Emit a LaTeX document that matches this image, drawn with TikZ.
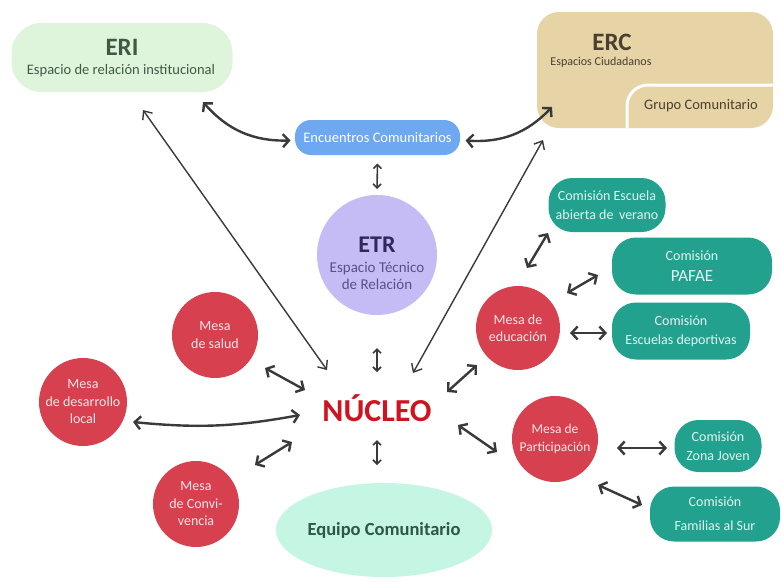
\documentclass[tikz,border=0pt]{standalone}
\usepackage{fontspec}
\setmainfont{Carlito}
\usetikzlibrary{arrows.meta,shapes.geometric}
\definecolor{erigreen}{HTML}{DFF5DB}
\definecolor{eritext}{HTML}{3E5A45}
\definecolor{erctan}{HTML}{E6D3A6}
\definecolor{erctext}{HTML}{4A4030}
\definecolor{encblue}{HTML}{6EA8F0}
\definecolor{etrpurple}{HTML}{C6BCF5}
\definecolor{etrtext}{HTML}{2F2A5A}
\definecolor{etrsub}{HTML}{5A4F8C}
\definecolor{nucred}{HTML}{D1121F}
\definecolor{mesared}{HTML}{D6404F}
\definecolor{mesatext}{HTML}{F8E6E8}
\definecolor{teal}{HTML}{22A18F}
\definecolor{tealtext}{HTML}{E2F4EF}
\definecolor{equaqua}{HTML}{C5F5E3}
\definecolor{equtext}{HTML}{2E5546}
\definecolor{arrowc}{HTML}{3A3A3A}
\tikzset{
  mesa/.style={circle, fill=mesared, text=mesatext, minimum size=86pt, inner sep=0pt, align=center, font=\fontsize{14}{17.5}\selectfont},
  comision/.style={rectangle, rounded corners=24pt, fill=teal, text=tealtext, inner sep=0pt, align=center, font=\fontsize{14}{19}\selectfont},
  arr/.style={draw=arrowc, line width=2.4pt, {Straight Barb[length=6pt,width=13pt]}-{Straight Barb[length=6pt,width=13pt]}},
  thinarr/.style={draw=arrowc, line width=1.4pt, {Straight Barb[length=7pt,width=12pt]}-{Straight Barb[length=7pt,width=12pt]}},
  smallarr/.style={draw=arrowc, line width=1.6pt, {Straight Barb[length=4pt,width=8pt]}-{Straight Barb[length=4pt,width=8pt]}},
  lbl/.style={inner sep=0pt}
}
\begin{document}
\begin{tikzpicture}[x=1pt,y=-1pt]
\useasboundingbox (0,0) rectangle (781,581);
\fill[white] (0,0) rectangle (781,581);

% ERI
\node[rectangle, rounded corners=30pt, fill=erigreen, minimum width=221pt, minimum height=69pt] (eri) at (122,57.5) {};
\node[lbl, text=eritext, font=\fontsize{25}{28}\selectfont\bfseries] (eriT) at (122,47) {ERI};
\node[lbl, text=eritext, font=\fontsize{14.5}{16}\selectfont] (eriS) at (121,71) {Espacio de relación institucional};

% ERC
\node[rectangle, rounded corners=22pt, fill=erctan, minimum width=236pt, minimum height=116pt] (erc) at (655,70) {};
\draw[white, line width=3pt] (627,128) -- (627,106) arc[start angle=180, end angle=90, radius=21pt] -- (773,85);
\node[lbl, text=erctext, font=\fontsize{25}{28}\selectfont\bfseries] (ercT) at (612,42) {ERC};
\node[lbl, text=erctext, font=\fontsize{12}{13}\selectfont] (ercS) at (601,62) {Espacios Ciudadanos};
\node[lbl, text=erctext, font=\fontsize{14.5}{16}\selectfont] (grupo) at (701,106) {Grupo Comunitario};

% Encuentros
\node[rectangle, rounded corners=16pt, fill=encblue, text=white, minimum width=165pt, minimum height=35pt, inner sep=0pt, font=\fontsize{14.5}{16}\selectfont] (enc) at (377.5,137.5) {Encuentros Comunitarios};

% ETR
\node[circle, fill=etrpurple, minimum size=120pt, inner sep=0pt] (etr) at (377,255) {};
\node[lbl, text=etrtext, font=\fontsize{24}{26}\selectfont\bfseries] (etrT) at (377,245) {ETR};
\node[lbl, text=etrsub, align=center, font=\fontsize{15}{17}\selectfont] (etrS) at (377,276) {Espacio Técnico\\de Relación};

% NUCLEO
\node[lbl, text=nucred, font=\fontsize{32}{36}\selectfont\bfseries] (nuc) at (377,408) {NÚCLEO};

% Equipo
\node[ellipse, fill=equaqua, minimum width=202pt, minimum height=94pt, inner sep=0pt, text=equtext, font=\fontsize{18.5}{20}\selectfont\bfseries] (equ) at (384,530) {Equipo Comunitario};

% Mesas
\node[mesa] (salud) at (215,335) {Mesa\\de salud};
\node[mesa, minimum size=88pt] (desa) at (83,402) {Mesa\\de desarrollo\\local};
\node[mesa] (conv) at (196,504) {Mesa\\de Convi-\\vencia};
\node[mesa, minimum size=84pt] (edu) at (518,328) {Mesa de\\educación};
\node[mesa, font=\fontsize{13.5}{17.5}\selectfont] (part) at (555,439) {Mesa de\\Participación};

% Comisiones
\node[comision, minimum width=117pt, minimum height=54pt] (esc) at (607,205) {Comisión Escuela\\abierta de\, verano};
\node[comision, minimum width=160pt, minimum height=57pt, font=\fontsize{14}{21}\selectfont] (paf) at (692,266) {Comisión\\{\fontsize{17}{19}\selectfont PAFAE}};
\node[comision, minimum width=138pt, minimum height=57pt] (dep) at (681,331) {Comisión\\Escuelas deportivas};
\node[comision, minimum width=87pt, minimum height=52pt] (zj) at (718,446) {Comisión\\Zona Joven};
\node[comision, minimum width=130pt, minimum height=55pt, font=\fontsize{14}{24}\selectfont] (fam) at (715,514) {Comisión\\Familias al Sur};

% Arrows
\draw[arr] ([shift={(81,44.5)}]eri.center) to[bend right=25] ([shift={(-87,3)}]enc.center);
\draw[arr] ([shift={(88,3)}]enc.center) to[bend right=25] ([shift={(-103,37)}]erc.center);
\draw[smallarr] ([shift={(0,26)}]enc.center) -- ([shift={(0,-66)}]etr.center);
\draw[thinarr] ([shift={(21,52.5)}]eri.center) -- ([shift={(-50,-38)}]nuc.center);
\draw[thinarr] ([shift={(-112,70)}]erc.center) -- ([shift={(36,-35)}]nuc.center);
\draw[smallarr] ([shift={(0,93)}]etr.center) -- ([shift={(0,-36)}]nuc.center);
\draw[smallarr] ([shift={(0,32)}]nuc.center) -- ([shift={(-7,-65)}]equ.center);
\draw[arr] ([shift={(50,33)}]salud.center) -- ([shift={(-72,-18)}]nuc.center);
\draw[arr] ([shift={(50,20)}]desa.center) to[bend right=8] ([shift={(-77,7)}]nuc.center);
\draw[arr] ([shift={(59,-39)}]conv.center) -- ([shift={(-85,34)}]nuc.center);
\draw[arr] ([shift={(70,-16)}]nuc.center) -- ([shift={(-41,37)}]edu.center);
\draw[arr] ([shift={(81,17)}]nuc.center) -- ([shift={(-58,13)}]part.center);
\draw[arr] ([shift={(9,-60)}]edu.center) -- ([shift={(-59,28)}]esc.center);
\draw[arr] ([shift={(49,-35)}]edu.center) -- ([shift={(-94,9)}]paf.center);
\draw[arr] ([shift={(52,5)}]edu.center) -- ([shift={(-74,2)}]dep.center);
\draw[arr] ([shift={(62,9)}]part.center) -- ([shift={(-51,2)}]zj.center);
\draw[arr] ([shift={(43,46)}]part.center) -- ([shift={(-73,-9)}]fam.center);
\end{tikzpicture}
\end{document}
